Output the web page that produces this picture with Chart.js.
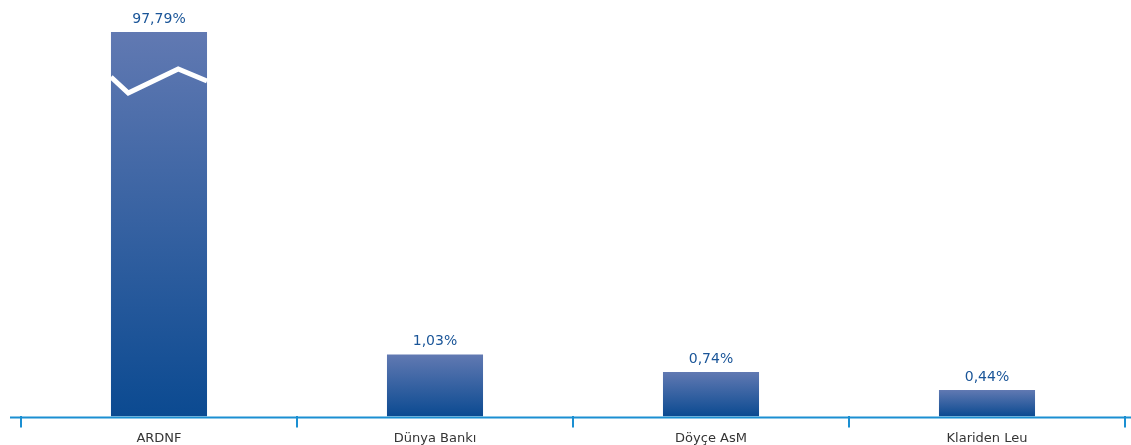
<!DOCTYPE html>
<html>
<head>
<meta charset="utf-8">
<script src="https://cdn.jsdelivr.net/npm/chart.js@4"></script>
<style>
  html, body { margin: 0; padding: 0; background: #fff; overflow: hidden; }
  #wrap { width: 1131px; height: 449px; }
</style>
</head>
<body>
<div id="wrap"><canvas id="barChart"></canvas></div>
<script>
// kategoriler ve değerler
const labels = ['ARDNF', 'Dünya Bankı', 'Döyçe AsM', 'Klariden Leu'];
const values = [97.79, 1.03, 0.74, 0.44];
// kırık eksen: ölçek üst sınırı
const yMax = 6.4;

const axisColor = '#1b8fd2';
const fontFam = '"DejaVu Sans", sans-serif';

function fmt(v) {
    return v.toFixed(2).replace('.', ',') + '%';
}

// her çubuk için kendi yüksekliğine göre gradyan
function barGradient(ctx) {
    const chart = ctx.chart;
    const area = chart.chartArea;
    if (!area) return '#2a5aa0';
    const y = chart.scales.y;
    const top = y.getPixelForValue(Math.min(values[ctx.dataIndex], yMax));
    const base = y.getPixelForValue(0);
    const g = chart.ctx.createLinearGradient(0, top, 0, base);
    g.addColorStop(0, '#6179b2');
    g.addColorStop(1, '#0b4a91');
    return g;
}

// değer etiketleri, kırık işareti ve taban çizgisi
const decorPlugin = {
    id: 'decor',
    afterDatasetsDraw(chart) {
        const c = chart.ctx;
        const meta = chart.getDatasetMeta(0);
        const y = chart.scales.y;
        const base = y.getPixelForValue(0);

        // taban çizgisi
        c.save();
        c.strokeStyle = axisColor;
        c.lineWidth = 2;
        c.beginPath();
        c.moveTo(10, base + 1);
        c.lineTo(chart.width, base + 1);
        c.stroke();
        c.restore();

        // kırık işareti ilk çubukta
        const b = meta.data[0];
        const top0 = y.getPixelForValue(Math.min(values[0], yMax));
        const left = b.x - b.width / 2;
        const w = b.width;
        c.save();
        c.strokeStyle = '#ffffff';
        c.lineWidth = 5;
        c.beginPath();
        c.moveTo(left, top0 + 45);
        c.lineTo(left + w * 0.18, top0 + 61);
        c.lineTo(left + w * 0.70, top0 + 37);
        c.lineTo(left + w, top0 + 49);
        c.stroke();
        c.restore();

        // değer etiketleri
        c.save();
        c.fillStyle = '#1a5598';
        c.font = '14px ' + fontFam;
        c.textAlign = 'center';
        c.textBaseline = 'bottom';
        meta.data.forEach(function(el, i) {
            const top = y.getPixelForValue(Math.min(values[i], yMax));
            c.fillText(fmt(values[i]), el.x, top - 6);
        });
        c.restore();
    }
};

new Chart(document.getElementById('barChart'), {
    type: 'bar',
    data: {
        labels: labels,
        datasets: [{
            data: values,
            backgroundColor: barGradient,
            borderWidth: 0,
            barPercentage: 1,
            categoryPercentage: 0.348
        }]
    },
    options: {
        responsive: true,
        maintainAspectRatio: false,
        animation: false,
        layout: {
            padding: { top: 32, left: 21, right: 6, bottom: 0 }
        },
        plugins: {
            legend: { display: false },
            tooltip: { enabled: false }
        },
        scales: {
            x: {
                offset: true,
                border: { display: false },
                grid: {
                    offset: true,
                    drawOnChartArea: false,
                    drawTicks: true,
                    tickLength: 11,
                    color: axisColor,
                    lineWidth: 2
                },
                ticks: {
                    color: '#353535',
                    padding: 3,
                    font: { size: 13, family: fontFam }
                }
            },
            y: {
                display: false,
                min: 0,
                max: yMax
            }
        }
    },
    plugins: [decorPlugin]
});
</script>
</body>
</html>
